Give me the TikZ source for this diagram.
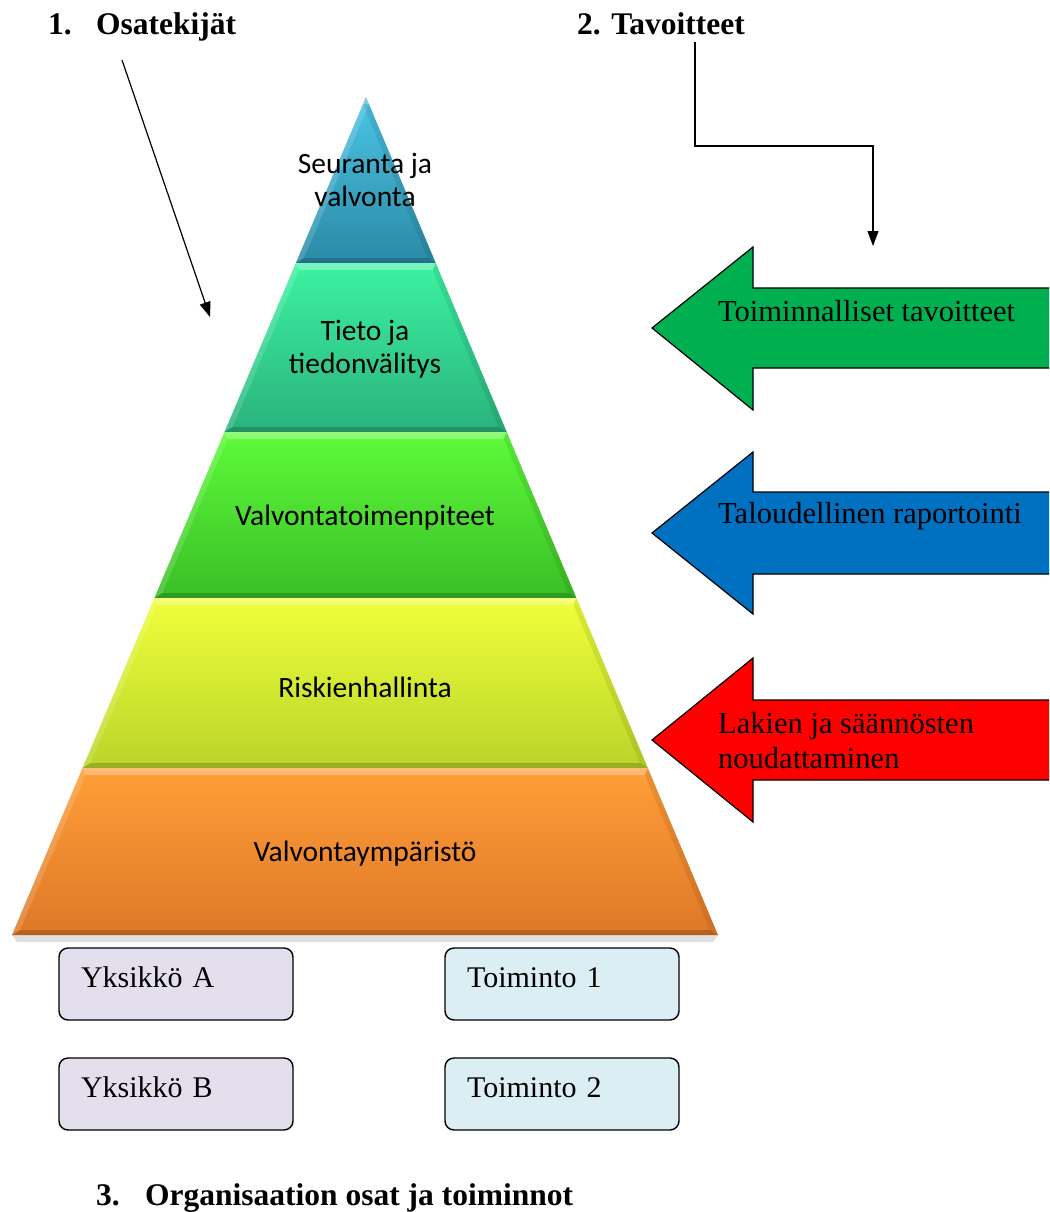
\documentclass[tikz,border=0pt]{standalone}
\usepackage{fontspec}
\setmainfont{Liberation Serif}
\newfontfamily\bandfont{Carlito}
\usetikzlibrary{arrows.meta}

\definecolor{bandAtop}{HTML}{4CC4E4}
\definecolor{bandAbot}{HTML}{2A8AA6}
\definecolor{bandBtop}{HTML}{3CF2A2}
\definecolor{bandBbot}{HTML}{2AB27C}
\definecolor{bandCtop}{HTML}{5EFB3A}
\definecolor{bandCbot}{HTML}{3ABE26}
\definecolor{bandDtop}{HTML}{F0FF3A}
\definecolor{bandDbot}{HTML}{BAD42A}
\definecolor{bandEtop}{HTML}{FF9E38}
\definecolor{bandEbot}{HTML}{DE7828}
\definecolor{arrowGreen}{HTML}{00B050}
\definecolor{arrowBlue}{HTML}{0070C0}
\definecolor{arrowRed}{HTML}{FF0000}
\definecolor{unitFill}{HTML}{E4DFEC}
\definecolor{funcFill}{HTML}{DAEEF3}

% one bevelled band of the pyramid between heights #1 and #2
\newcommand\pyrband[4]{%
  \pgfmathsetmacro\pbYa{#1}\pgfmathsetmacro\pbYb{#2}%
  \pgfmathsetmacro\pbLa{366-(\pbYa-97)/838*354}%
  \pgfmathsetmacro\pbRa{366+(\pbYa-97)/838*352}%
  \pgfmathsetmacro\pbLb{366-(\pbYb-97)/838*354}%
  \pgfmathsetmacro\pbRb{366+(\pbYb-97)/838*352}%
  \pgfmathsetmacro\pbYc{\pbYa+7}\pgfmathsetmacro\pbYd{\pbYb-5}%
  \pgfmathsetmacro\pbLc{366-(\pbYc-97)/838*354+6}%
  \pgfmathsetmacro\pbRc{366+(\pbYc-97)/838*352-6}%
  \pgfmathsetmacro\pbLd{366-(\pbYd-97)/838*354+6}%
  \pgfmathsetmacro\pbRd{366+(\pbYd-97)/838*352-6}%
  \shade[top color=#3,bottom color=#4]
    (\pbLa,\pbYa) -- (\pbRa,\pbYa) -- (\pbRb,\pbYb) -- (\pbLb,\pbYb) -- cycle;
  \fill[white,opacity=.30]
    (\pbLa,\pbYa) -- (\pbRa,\pbYa) -- (\pbRc,\pbYc) -- (\pbLc,\pbYc) -- cycle;
  \fill[white,opacity=.15]
    (\pbLa,\pbYa) -- (\pbLc,\pbYc) -- (\pbLd,\pbYd) -- (\pbLb,\pbYb) -- cycle;
  \fill[black,opacity=.18]
    (\pbLb,\pbYb) -- (\pbLd,\pbYd) -- (\pbRd,\pbYd) -- (\pbRb,\pbYb) -- cycle;
  \fill[black,opacity=.08]
    (\pbRa,\pbYa) -- (\pbRb,\pbYb) -- (\pbRd,\pbYd) -- (\pbRc,\pbYc) -- cycle;
}

\begin{document}
\begin{tikzpicture}[x=1pt,y=-1pt,
  heading/.style={font=\fontsize{31.5}{36}\selectfont\bfseries, inner sep=0pt},
  bandtext/.style={font=\bandfont\fontsize{29.5}{33}\selectfont, align=center, inner sep=0pt},
  arrowtext/.style={font=\fontsize{30.5}{35}\selectfont, align=left, anchor=west, inner sep=0pt},
  pointer/.style={line width=1.2pt, -{Triangle[length=15pt,width=11pt]}},
  bigarrow/.style={draw=black, line width=1.2pt, line join=miter},
  orgbox/.style={draw=black, line width=1.4pt, rounded corners=9pt,
    minimum width=234pt, minimum height=72pt, text width=190pt,
    inner xsep=22pt, align=left, text height=20pt, text depth=14pt,
    font=\fontsize{30}{35}\selectfont}]

\useasboundingbox (0,0) rectangle (1049,1212);

% headings
\node[heading, anchor=base west] (n1) at (48,35) {1.};
\node[heading, anchor=base west] (h1) at (96,35) {Osatekijät};
\node[heading, anchor=base west] (h2) at (577,35) {2. Tavoitteet};
\node[heading, anchor=base west] (n3) at (96,1205) {3.};
\node[heading, anchor=base west] (h3) at (145,1205) {Organisaation osat ja toiminnot};

% shadow under the pyramid
\fill[black,opacity=.12] (12,935) -- (718,935) -- (713,942) -- (17,942) -- cycle;

% pyramid bands, top to bottom
\pyrband{97}{263}{bandAtop}{bandAbot}
\pyrband{263}{432}{bandBtop}{bandBbot}
\pyrband{432}{598}{bandCtop}{bandCbot}
\pyrband{598}{768}{bandDtop}{bandDbot}
\pyrband{768}{935}{bandEtop}{bandEbot}

\node[bandtext] (b1) at (365,180) {Seuranta ja\\valvonta};
\node[bandtext] (b2) at (365,349) {Tieto ja\\tiedonvälitys};
\node[bandtext] (b3) at (365,518) {Valvontatoimenpiteet};
\node[bandtext] (b4) at (365,687) {Riskienhallinta};
\node[bandtext] (b5) at (365,854) {Valvontaympäristö};

% connectors from the headings
\coordinate (o1) at (122,60);
\coordinate (o2) at (210,317);
\draw[pointer] (o1) -- (o2);
\coordinate (t1) at (695,42);
\coordinate (tm) at (784,146);
\coordinate (t2) at (873,246);
\draw[pointer] (t1) |- (tm) -| (t2);

% objective arrows, running off the right edge
\begin{scope}
  \clip (0,0) rectangle (1049,1212);
  \filldraw[bigarrow, fill=arrowGreen]
    (1060,288) -- (753,288) -- (753,247) -- (652,328) -- (753,410) -- (753,368) -- (1060,368);
  \filldraw[bigarrow, fill=arrowBlue]
    (1060,492) -- (753,492) -- (753,452) -- (652,533) -- (753,614) -- (753,574) -- (1060,574);
  \filldraw[bigarrow, fill=arrowRed]
    (1060,700) -- (753,700) -- (753,658) -- (652,740) -- (753,822) -- (753,780) -- (1060,780);
\end{scope}
\node[arrowtext] (a1) at (718,311) {Toiminnalliset tavoitteet};
\node[arrowtext] (a2) at (718,516) {Taloudellinen raportointi};
\node[arrowtext] (a3) at (718,741) {Lakien ja säännösten\\noudattaminen};

% organisation units and functions
\node[orgbox, fill=unitFill] (ya) at (176,984) {Yksikkö A};
\node[orgbox, fill=unitFill] (yb) at (176,1094) {Yksikkö B};
\node[orgbox, fill=funcFill] (ta) at (562,984) {Toiminto 1};
\node[orgbox, fill=funcFill] (tb) at (562,1094) {Toiminto 2};

\end{tikzpicture}
\end{document}
